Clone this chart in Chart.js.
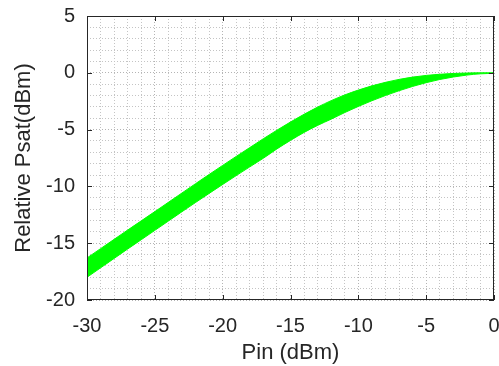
<!DOCTYPE html>
<html>
<head>
<meta charset="utf-8">
<script src="https://cdn.jsdelivr.net/npm/chart.js@4.4.1/dist/chart.umd.min.js"></script>
<style>
  html, body { margin: 0; padding: 0; background: #fff; }
  #wrap { width: 499px; height: 366px; }
</style>
</head>
<body>
<div id="wrap"><canvas id="chart" width="499" height="366"></canvas></div>
<script>
// Pin (dBm) sample points
const pin = [-30, -29, -28, -27, -26, -25, -24, -23, -22, -21, -20, -19, -18, -17, -16,
  -15, -14, -13, -12, -11, -10, -9, -8, -7, -6, -5, -4, -3, -2, -1, 0];
// upper and lower edges of the green band (relative Psat, dBm)
const psatUpper = [-16.3, -15.48, -14.66, -13.84, -13.03, -12.22, -11.4, -10.58, -9.76, -8.95,
  -8.15, -7.36, -6.58, -5.8, -5.05, -4.33, -3.65, -3.02, -2.45, -1.95, -1.52, -1.15, -0.84,
  -0.58, -0.38, -0.23, -0.13, -0.06, -0.02, 0, 0];
const psatLower = [-18.0, -17.17, -16.34, -15.51, -14.69, -13.87, -13.05, -12.23, -11.42, -10.62,
  -9.83, -9.05, -8.28, -7.52, -6.7, -5.95, -5.25, -4.63, -4.08, -3.5, -2.96, -2.46, -2.0,
  -1.58, -1.2, -0.87, -0.59, -0.37, -0.2, -0.09, -0.05];
const xTicks = [-30, -25, -20, -15, -10, -5, 0];
const yTicks = [-20, -15, -10, -5, 0, 5];

const ink = '#262626';
const green = '#00ff00';
const fam = 'Liberation Sans, Arial, sans-serif';

const toPts = ys => pin.map((x, i) => ({ x: x, y: ys[i] }));

// frame box + inward ticks on all four sides
const framePlugin = {
  id: 'frame',
  afterDraw(chart) {
    const { ctx, chartArea: a, scales } = chart;
    ctx.save();
    ctx.strokeStyle = ink;
    ctx.lineWidth = 1;
    ctx.strokeRect(Math.round(a.left) + 0.5, Math.round(a.top) + 0.5,
      Math.round(a.right - a.left) - 1, Math.round(a.bottom - a.top) - 1);
    const len = 5;
    ctx.beginPath();
    xTicks.forEach(v => {
      const px = Math.round(scales.x.getPixelForValue(v)) + 0.5;
      ctx.moveTo(px, a.bottom); ctx.lineTo(px, a.bottom - len);
      ctx.moveTo(px, a.top); ctx.lineTo(px, a.top + len);
    });
    yTicks.forEach(v => {
      const py = Math.round(scales.y.getPixelForValue(v)) + 0.5;
      ctx.moveTo(a.left, py); ctx.lineTo(a.left + len, py);
      ctx.moveTo(a.right, py); ctx.lineTo(a.right - len, py);
    });
    ctx.stroke();
    ctx.restore();
  }
};

const gridColor = ctx => (ctx.tick && ctx.tick.value % 5 === 0) ? '#b4b4b4' : '#c4c4c4';

new Chart(document.getElementById('chart'), {
  type: 'line',
  data: {
    datasets: [
      {
        data: toPts(psatUpper),
        borderColor: green,
        backgroundColor: green,
        borderWidth: 1,
        pointRadius: 0,
        fill: '+1',
        cubicInterpolationMode: 'monotone'
      },
      {
        data: toPts(psatLower),
        borderColor: green,
        backgroundColor: green,
        borderWidth: 1,
        pointRadius: 0,
        fill: false,
        cubicInterpolationMode: 'monotone'
      }
    ]
  },
  options: {
    responsive: false,
    animation: false,
    layout: { padding: { top: 16, right: 5, left: 0, bottom: 0 } },
    plugins: { legend: { display: false }, tooltip: { enabled: false } },
    scales: {
      x: {
        type: 'linear',
        min: -30, max: 0,
        afterFit: s => { s.height = 66; s.paddingLeft = 0; s.paddingRight = 0; },
        border: { display: false, dash: [1, 2] },
        grid: { color: gridColor, lineWidth: 1, drawTicks: false },
        ticks: {
          stepSize: 1, autoSkip: false, maxRotation: 0,
          color: ink, padding: 14,
          font: { family: fam, size: 20 },
          callback: v => (v % 5 === 0 ? String(v) : '')
        },
        title: {
          display: true, text: 'Pin (dBm)', color: ink,
          font: { family: fam, size: 22 },
          padding: { top: 0, bottom: 0 }
        }
      },
      y: {
        min: -20, max: 5,
        afterFit: s => { s.width = 87; s.paddingTop = 0; s.paddingBottom = 0; },
        border: { display: false, dash: [1, 2] },
        grid: { color: gridColor, lineWidth: 1, drawTicks: false },
        ticks: {
          stepSize: 1, autoSkip: false,
          color: ink, padding: 12,
          font: { family: fam, size: 20 },
          callback: v => (v % 5 === 0 ? String(v) : '')
        },
        title: {
          display: true, text: 'Relative Psat(dBm)', color: ink,
          font: { family: fam, size: 22 },
          padding: { top: 11, bottom: 0 }
        }
      }
    }
  },
  plugins: [framePlugin]
});
</script>
</body>
</html>
